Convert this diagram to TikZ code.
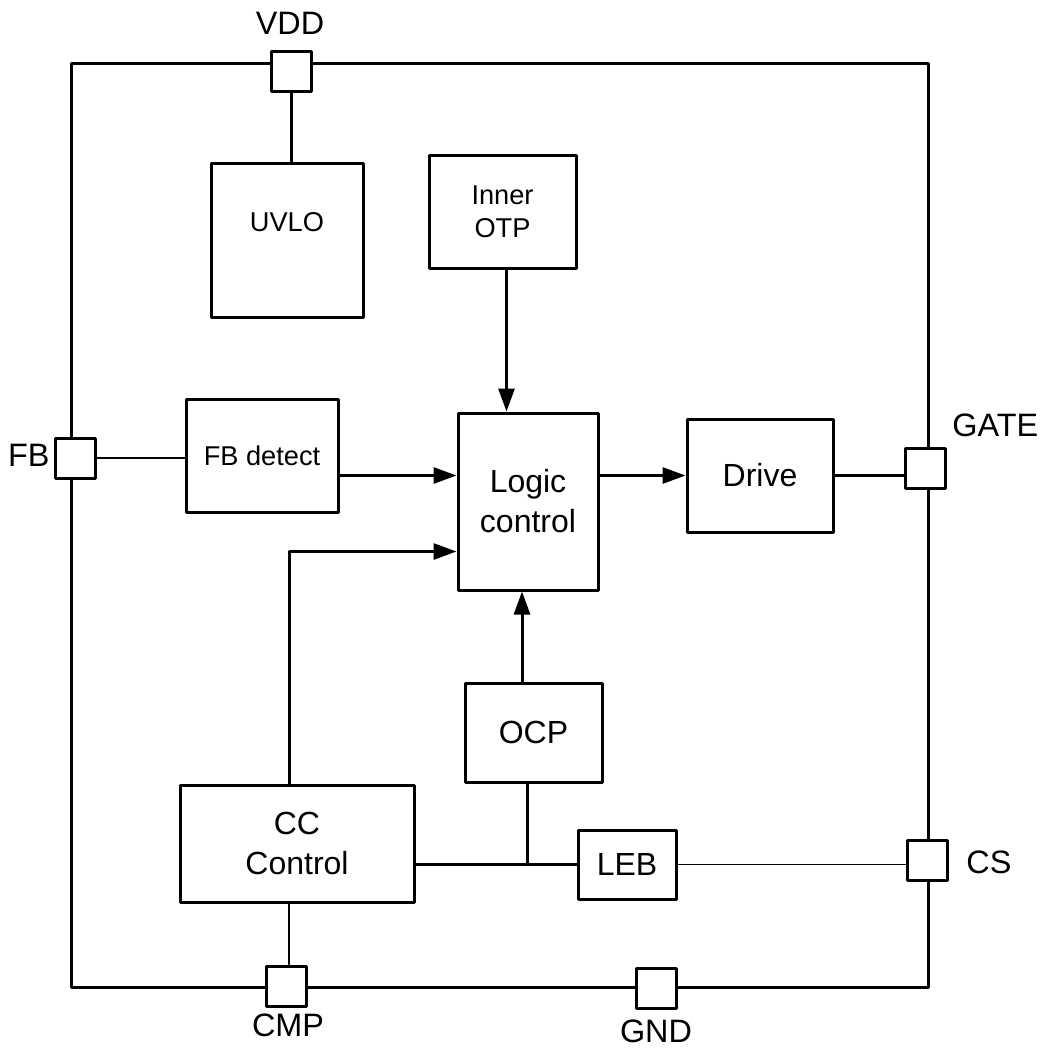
\documentclass[tikz,border=0pt]{standalone}
\usepackage{fontspec}
\setmainfont{Liberation Sans}
\usetikzlibrary{arrows.meta, positioning, calc}

\tikzset{
  blk/.style={draw, line width=1.5pt, inner sep=0pt, align=center, font=\fontsize{16}{20}\selectfont},
  smallblk/.style={blk, font=\fontsize{13.6}{16.5}\selectfont},
  pin/.style={draw, fill=white, line width=1.5pt, minimum size=20pt, inner sep=0pt},
  wire/.style={line width=1.5pt},
  thinwire/.style={line width=0.6pt},
  arr/.style={line width=1.5pt, -{Triangle[length=11.5pt, width=8pt]}},
  lbl/.style={font=\fontsize{16.2}{19}\selectfont, inner sep=0pt},
}

\begin{document}
\begin{tikzpicture}[x=0.5pt, y=-0.5pt, line cap=round, line join=round]
\useasboundingbox (0,0) rectangle (1044,1050);

% --- Chip outline ---
\draw[wire] (71,63) rectangle (928,987);

% --- Blocks ---
\node[smallblk, minimum width=76pt, minimum height=77pt,
      label={[yshift=9pt, font=\fontsize{13.6}{16.5}\selectfont]center:UVLO}] (uvlo) at (287,240) {};
\node[smallblk, minimum width=73.5pt, minimum height=56.5pt] (otp) at (502.5,211.5) {Inner\\OTP};
\node[smallblk, minimum width=76pt, minimum height=56.5pt] (fbdet) at (262,455.5) {FB detect};
\node[blk, minimum width=70pt, minimum height=88.5pt] (logic) at (528,501.5) {Logic\\control};
\node[blk, minimum width=73pt, minimum height=56.5pt] (drive) at (760,475.5) {Drive};
\node[blk, minimum width=68.5pt, minimum height=49.5pt] (ocp) at (533.5,732.5) {OCP};
\node[blk, minimum width=117pt, minimum height=58.5pt] (cc) at (297,843.5) {CC\\Control};
\node[blk, minimum width=49pt, minimum height=34.5pt] (leb) at (627,864.5) {LEB};

% --- Pins ---
\node[pin] (vdd) at (291,71) {};
\node[pin] (fb) at (75,458) {};
\node[pin] (gate) at (925,468) {};
\node[pin] (cs) at (927,860) {};
\node[pin] (cmp) at (286,986) {};
\node[pin] (gnd) at (656,988) {};

% --- Pin names ---
\node[lbl] (vddname) at (290,23) {VDD};
\node[lbl, anchor=east] (fbname) at (50,455) {FB};
\node[lbl, anchor=west] (gatename) at (952,425) {GATE};
\node[lbl, anchor=west] (csname) at (966,862) {CS};
\node[lbl] (cmpname) at (288,1025) {CMP};
\node[lbl] (gndname) at (656,1031) {GND};

% --- Connections ---
\coordinate (jn) at (527,864.5);
\draw[wire] (vdd.south) -- (vdd.south |- uvlo.north);
\draw[arr] ([xshift=2pt]otp.south) -- ([xshift=2pt]otp.south |- logic.north);
\draw[thinwire] (fb.east) -- (fb.east -| fbdet.west);
\draw[arr] ([yshift=-10pt]fbdet.east) -- ([yshift=-10pt]fbdet.east -| logic.west);
\draw[arr] ([xshift=-4pt]cc.north) |- ([yshift=-25pt]logic.west);
\draw[arr] (logic.east |- drive.west) -- (drive.west);
\draw[wire] (drive.east) -- (drive.east -| gate.west);
\draw[arr] ([xshift=-3pt]ocp.north -| logic.south) -- ([xshift=-3pt]logic.south);
\draw[wire] (ocp.south -| jn) -- (jn);
\draw[wire] (cc.east |- jn) -- (jn) -- (leb.west);
\draw[thinwire] (leb.east) -- (leb.east -| cs.west);
\draw[thinwire] ([xshift=-4pt]cc.south) -- ([xshift=-4pt]cc.south |- cmp.north);
\end{tikzpicture}
\end{document}
